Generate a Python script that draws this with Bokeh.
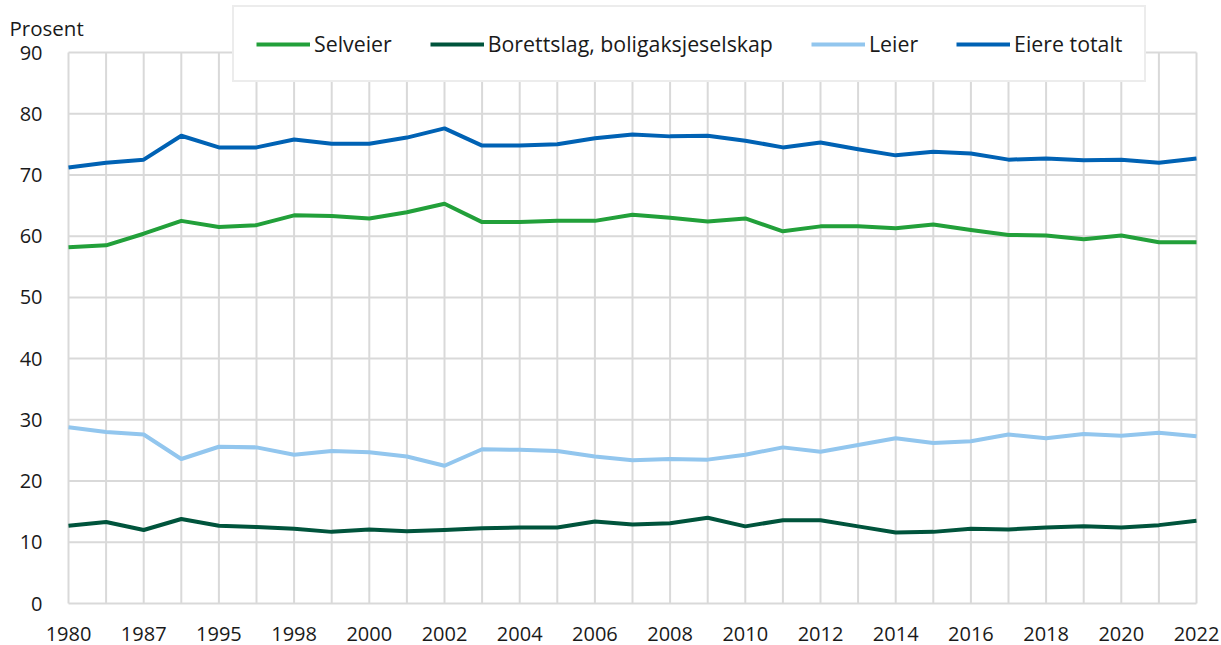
from bokeh.plotting import figure
from bokeh.models import Range1d, FixedTicker, Legend, LegendItem, Label
from bokeh.embed import file_html
from bokeh.resources import INLINE

years = ["1980", "1983", "1987", "1991", "1995", "1997", "1998", "1999", "2000",
         "2001", "2002", "2003", "2004", "2005", "2006", "2007", "2008", "2009",
         "2010", "2011", "2012", "2013", "2014", "2015", "2016", "2017", "2018",
         "2019", "2020", "2021", "2022"]

selveier = [58.2, 58.5, 60.4, 62.5, 61.5, 61.8, 63.4, 63.3, 62.9, 63.9, 65.3,
            62.3, 62.3, 62.5, 62.5, 63.5, 63.0, 62.4, 62.9, 60.8, 61.6, 61.6,
            61.3, 61.9, 61.0, 60.2, 60.1, 59.5, 60.1, 59.0, 59.0]
borettslag = [12.7, 13.3, 12.0, 13.8, 12.7, 12.5, 12.2, 11.7, 12.1, 11.8, 12.0,
              12.3, 12.4, 12.4, 13.4, 12.9, 13.1, 14.0, 12.6, 13.6, 13.6, 12.6,
              11.6, 11.7, 12.2, 12.1, 12.4, 12.6, 12.4, 12.8, 13.5]
leier = [28.8, 28.0, 27.6, 23.6, 25.6, 25.5, 24.3, 24.9, 24.7, 24.0, 22.5,
         25.2, 25.1, 24.9, 24.0, 23.4, 23.6, 23.5, 24.3, 25.5, 24.8, 25.9,
         27.0, 26.2, 26.5, 27.6, 27.0, 27.7, 27.4, 27.9, 27.3]
eiere_totalt = [71.2, 72.0, 72.5, 76.4, 74.5, 74.5, 75.8, 75.1, 75.1, 76.1, 77.6,
                74.8, 74.8, 75.0, 76.0, 76.6, 76.3, 76.4, 75.6, 74.5, 75.3, 74.2,
                73.2, 73.8, 73.5, 72.5, 72.7, 72.4, 72.5, 72.0, 72.7]

series_names = ["Selveier", "Borettslag, boligaksjeselskap", "Leier", "Eiere totalt"]
series_colors = ["#22a03a", "#00543c", "#92c6ee", "#0062b4"]
y_ticks = [0, 10, 20, 30, 40, 50, 60, 70, 80, 90]
y_max = 90
unit_label = "Prosent"

FONT = "Open Sans"
FS = "20px"
GRID = "#d9d9d9"

idx = list(range(len(years)))
n_last = len(years) - 1

# the frame covers the whole canvas; the value region is 0..n_last x 0..90
CANVAS_W, CANVAS_H = 1221, 645
px_per_x = 1128 / n_last
px_per_y = 551 / y_max
x_start = -68 / px_per_x
x_end = n_last + (CANVAS_W - 1196) / px_per_x
y_start = -(CANVAS_H - 603) / px_per_y
y_end = y_max + 52 / px_per_y

p = figure(frame_width=CANVAS_W, frame_height=CANVAS_H, output_backend="svg",
           toolbar_location=None,
           x_range=Range1d(x_start, x_end), y_range=Range1d(y_start, y_end),
           min_border_left=0, min_border_top=0, min_border_right=0,
           min_border_bottom=0)
p.outline_line_color = None
p.background_fill_color = "white"
p.border_fill_color = "white"
p.xgrid.visible = False
p.ygrid.visible = False

# grid lines restricted to the value region
p.segment(x0=idx, y0=[0] * len(idx), x1=idx, y1=[y_max] * len(idx),
          line_color=GRID, line_width=2)
p.segment(x0=[0] * len(y_ticks), y0=y_ticks, x1=[n_last] * len(y_ticks), y1=y_ticks,
          line_color=GRID, line_width=2)

renderers = []
for vals, col in zip([selveier, borettslag, leier, eiere_totalt], series_colors):
    r = p.line(idx, vals, line_color=col, line_width=4, line_join="round")
    renderers.append(r)

# axes, drawn at the value region's edges
p.xaxis.ticker = FixedTicker(ticks=idx)
p.xaxis.major_label_overrides = {i: (years[i] if i % 2 == 0 else "") for i in idx}
p.xaxis.fixed_location = 0
p.yaxis.ticker = FixedTicker(ticks=y_ticks)
p.yaxis.fixed_location = 0
for ax in (p.xaxis, p.yaxis):
    ax.axis_line_color = None
    ax.major_tick_line_color = None
    ax.minor_tick_line_color = None
    ax.major_label_text_font = FONT
    ax.major_label_text_font_size = FS
    ax.major_label_text_color = "#1a1a1a"
p.xaxis.major_label_standoff = 17
p.yaxis.major_label_standoff = 20

legend = Legend(items=[LegendItem(label=n, renderers=[r]) for n, r in zip(series_names, renderers)],
                orientation="horizontal", location=(232, 521 + 42),
                glyph_width=54, glyph_height=20, label_standoff=4, spacing=38,
                padding=22, margin=0,
                border_line_color=GRID, border_line_width=2,
                background_fill_color="white", background_fill_alpha=1,
                label_text_font=FONT, label_text_font_size="21.33px",
                label_text_color="#1a1a1a")
p.add_layout(legend, "center")

p.add_layout(Label(x=-59 / px_per_x, y=(603 - 27.3) / px_per_y, text=unit_label,
                   text_font=FONT, text_font_size="20.5px", text_baseline="alphabetic",
                   text_color="#1a1a1a"))

open("out.html", "w").write(file_html(p, INLINE))
